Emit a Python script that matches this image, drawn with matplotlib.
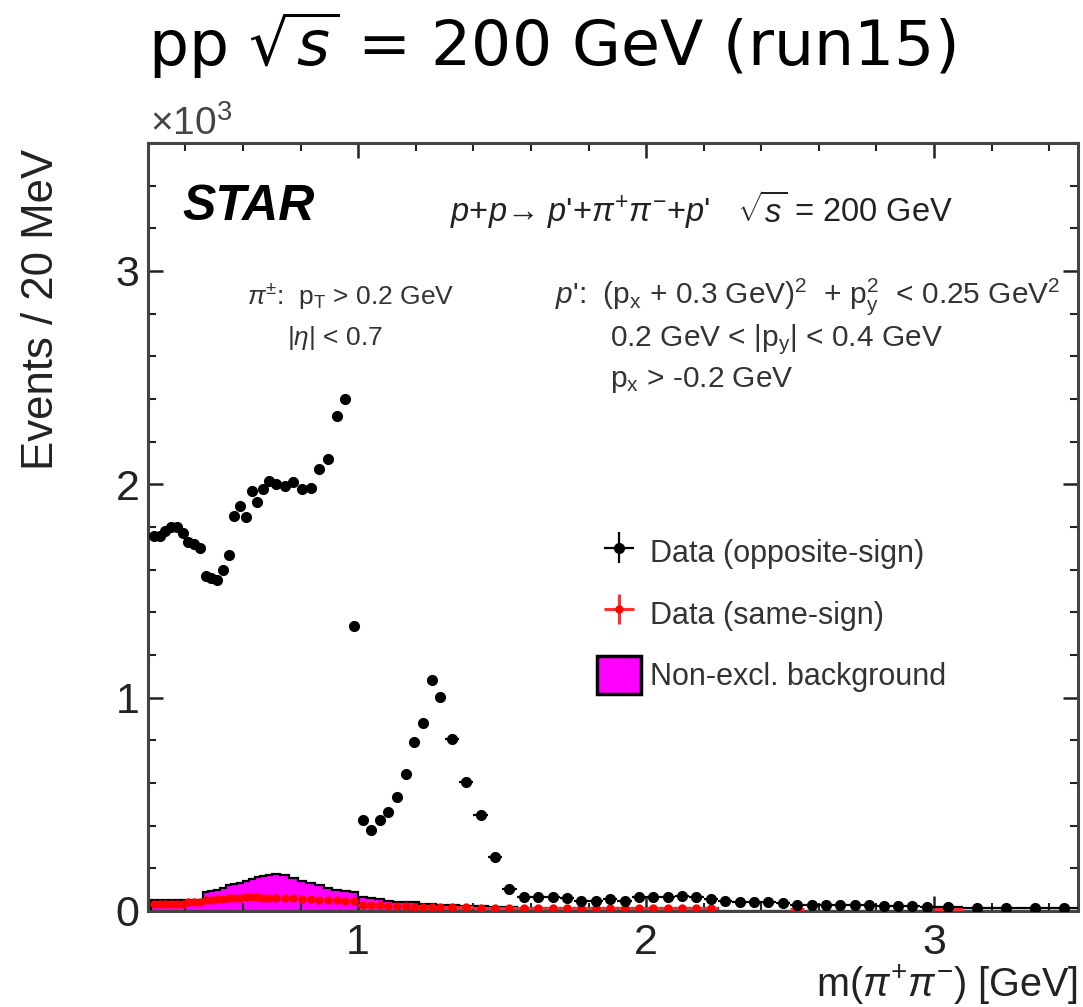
import numpy as np
import matplotlib
matplotlib.use("Agg")
import matplotlib.pyplot as plt
from matplotlib.patches import Patch
from matplotlib.ticker import MultipleLocator

plt.rcParams['font.family'] = ['Liberation Sans', 'DejaVu Sans']
plt.rcParams['mathtext.fontset'] = 'custom'
plt.rcParams['mathtext.rm'] = 'Liberation Sans'
plt.rcParams['mathtext.it'] = 'Liberation Sans:italic'
plt.rcParams['mathtext.bf'] = 'Liberation Sans:bold'

# ---------------- data (values in units of 10^3 events / 20 MeV) ----------------
# variable binning of m(pi+pi-) [GeV]
bin_edges = np.concatenate([
    np.linspace(0.28, 0.70, 22)[:-1],   # 20 MeV bins
    np.linspace(0.70, 1.30, 21)[:-1],   # 30 MeV bins
    np.linspace(1.30, 3.00, 35)[:-1],   # 50 MeV bins
    np.linspace(3.00, 3.50, 6),         # 100 MeV bins
])

opposite_sign = [
    # 0.02 GeV bins 0.28-0.70
    1.76, 1.76, 1.78, 1.80, 1.80, 1.77, 1.73, 1.72, 1.70, 1.57, 1.56,
    1.55, 1.60, 1.67, 1.85, 1.90, 1.845, 1.97, 1.915, 1.98, 2.015,
    # 0.03 GeV bins 0.70-1.30
    2.00, 1.99, 2.01, 1.98, 1.985, 2.07, 2.12, 2.32, 2.40, 1.335,
    0.425, 0.38, 0.425, 0.465, 0.535, 0.64, 0.79, 0.88, 1.085, 1.005,
    # 0.05 GeV bins 1.30-3.00
    0.808, 0.605, 0.449, 0.251, 0.101, 0.066, 0.064, 0.064, 0.059, 0.048,
    0.048, 0.055, 0.048, 0.064, 0.064, 0.064, 0.070, 0.067, 0.055, 0.048,
    0.042, 0.040, 0.040, 0.038, 0.030, 0.030, 0.028, 0.028, 0.026, 0.026,
    0.024, 0.024, 0.022, 0.020,
    # 0.1 GeV bins 3.0-3.5
    0.018, 0.016, 0.015, 0.015, 0.014,
]

nan = np.nan
same_sign = [
    0.035, 0.035, 0.035, 0.035, 0.035, 0.035, 0.04, 0.04, 0.04, 0.05, 0.05,
    0.055, 0.055, 0.06, 0.06, 0.06, 0.065, 0.065, 0.065, 0.06, 0.06,
    0.06, 0.06, 0.06, 0.055, 0.055, 0.05, 0.05, 0.05, 0.045, 0.045,
    0.03, 0.03, 0.03, 0.025, 0.025, 0.025, 0.02, 0.02, 0.02, 0.02,
    0.018, 0.017, 0.016, 0.015, 0.015, 0.014, 0.014, 0.013, 0.013, 0.013,
    0.012, 0.012, 0.012, 0.012, 0.012, 0.012, 0.012, 0.012, 0.012, nan,
    nan, nan, nan, nan, 0.010, nan, nan, nan, nan, nan,
    nan, nan, nan, nan,
    0.008, nan, nan, nan, nan,
]

non_excl_bkg = [
    0.05, 0.05, 0.05, 0.05, 0.05, 0.05, 0.05, 0.05, 0.05, 0.09, 0.095,
    0.10, 0.11, 0.12, 0.125, 0.13, 0.14, 0.15, 0.16, 0.165, 0.17,
    0.175, 0.17, 0.155, 0.14, 0.13, 0.12, 0.11, 0.10, 0.095, 0.09,
    0.065, 0.06, 0.055, 0.045, 0.04, 0.04, 0.04, 0.035, 0.035, 0.03,
    0.03, 0.025, 0.025, 0.02, 0.02, 0.015, 0.012, 0.012, 0.012, 0.012,
    0.012, 0.012, 0.012, 0.012, 0.012, 0.012, 0.012, 0.012, 0.012, 0.0,
    0.0, 0.0, 0.0, 0.0, 0.0, 0.0, 0.0, 0.0, 0.0, 0.0,
    0.0, 0.0, 0.0, 0.0,
    0.0, 0.0, 0.0, 0.0, 0.0,
]

y_ticks = [0, 1, 2, 3]
x_ticks = [1, 2, 3]

# ---------------- figure ----------------
W, H = 1083, 1007
fig = plt.figure(figsize=(W / 100, H / 100), dpi=100)
ax = fig.add_axes([148 / W, 96 / H, 930 / W, 768 / H])

edges = np.asarray(bin_edges)
centers = 0.5 * (edges[:-1] + edges[1:])
halfw = 0.5 * (edges[1:] - edges[:-1])
os_v = np.asarray(opposite_sign)
ss_v = np.asarray(same_sign)
bk_v = np.asarray(non_excl_bkg)

# background histogram
ax.stairs(bk_v, edges, fill=True, facecolor='#ff00ff', edgecolor='none', zorder=1)
ax.stairs(bk_v, edges, fill=False, color='black', lw=1.6, zorder=1.5)

# same-sign data (statistical error bars)
m = ~np.isnan(ss_v)
ss_err = 0.5 * np.sqrt(ss_v[m] * 1000) / 1000
eb_ss = ax.errorbar(centers[m], ss_v[m], xerr=halfw[m], yerr=ss_err, fmt='o',
                    color='#ff0000', ecolor='#ff3030', ms=5, elinewidth=2.2,
                    capsize=0, zorder=3)

# opposite-sign data (statistical error bars)
os_err = 0.5 * np.sqrt(os_v * 1000) / 1000
eb_os = ax.errorbar(centers, os_v, xerr=halfw, yerr=os_err, fmt='o',
                    color='black', ms=7, elinewidth=1.6, capsize=0, zorder=4)

ax.set_xlim(0.27, 3.5)
ax.set_ylim(0, 3.6)
ax.set_xticks(x_ticks)
ax.set_yticks(y_ticks)
ax.xaxis.set_minor_locator(MultipleLocator(0.2))
ax.yaxis.set_minor_locator(MultipleLocator(0.2))
ax.tick_params(which='both', direction='in', top=True, right=True,
               labelsize=31, colors='#222222')
ax.tick_params(which='major', length=11, width=1.8)
ax.tick_params(which='minor', length=5.5, width=1.5)
ax.tick_params(axis='y', pad=6)
ax.tick_params(axis='x', pad=9)
for s in ax.spines.values():
    s.set_linewidth(2.2)
    s.set_color('#444444')

# axis titles
fig.text(42 / W, 1 - 309 / H, 'Events / 20 MeV', rotation=90, fontsize=31.5,
         ha='center', va='center', color='#222222')
fig.text(1078 / W, 1 - 985 / H, r'm($\pi^{+}\pi^{-}$) [GeV]', fontsize=28.5,
         ha='right', va='center', color='#222222')
fig.text(150 / W, 1 - 124 / H, r'$\times$10$^{3}$', fontsize=28,
         ha='left', va='center', color='#444444')

# slide title
fig.text(148 / W, 1 - 45 / H, r'pp $\sqrt{s}$ = 200 GeV (run15)',
         fontsize=45.5, ha='left', va='center', color='black',
         family=['DejaVu Sans'], math_fontfamily='dejavusans')

# annotations
fig.text(182 / W, 1 - 207 / H, 'STAR', fontsize=36, fontweight='bold',
         fontstyle='italic', ha='left', va='center', color='black')
fig.text(450 / W, 1 - 210 / H,
         "$p$+$p$\u2192 $p$'+$\\pi^{+}\\pi^{-}$+$p$'   $\\sqrt{s}$ = 200 GeV",
         fontsize=23.5, ha='left', va='center', color='#222222')
fig.text(247 / W, 1 - 296 / H, r'$\pi^{\pm}$:  p$_{\mathrm{T}}$ > 0.2 GeV',
         fontsize=19, ha='left', va='center', color='#333333')
fig.text(287 / W, 1 - 338 / H, r'|$\eta$| < 0.7',
         fontsize=19, ha='left', va='center', color='#333333')
fig.text(555 / W, 1 - 296 / H,
         r"$p$':  (p$_{\mathrm{x}}$ + 0.3 GeV)$^{2}$  + p$_{\mathrm{y}}^{2}$  < 0.25 GeV$^{2}$",
         fontsize=21.5, ha='left', va='center', color='#333333')
fig.text(610 / W, 1 - 340 / H, r'0.2 GeV < |p$_{\mathrm{y}}$| < 0.4 GeV',
         fontsize=21.5, ha='left', va='center', color='#333333')
fig.text(610 / W, 1 - 380 / H, r'p$_{\mathrm{x}}$ > -0.2 GeV',
         fontsize=21.5, ha='left', va='center', color='#333333')

# legend
handles = [eb_os, eb_ss, Patch(facecolor='#ff00ff', edgecolor='black', lw=2.5)]
labels = ['Data (opposite-sign)', 'Data (same-sign)', 'Non-excl. background']
leg = ax.legend(handles, labels, loc='upper left',
                bbox_to_anchor=((597 - 148) / 930, (911 - 533) / 768),
                frameon=False, fontsize=22, handlelength=1.45, handleheight=1.55,
                labelspacing=0.76, handletextpad=0.3, borderpad=0,
                borderaxespad=0)
for t in leg.get_texts():
    t.set_color('#333333')

fig.savefig('out.png', dpi=100)
